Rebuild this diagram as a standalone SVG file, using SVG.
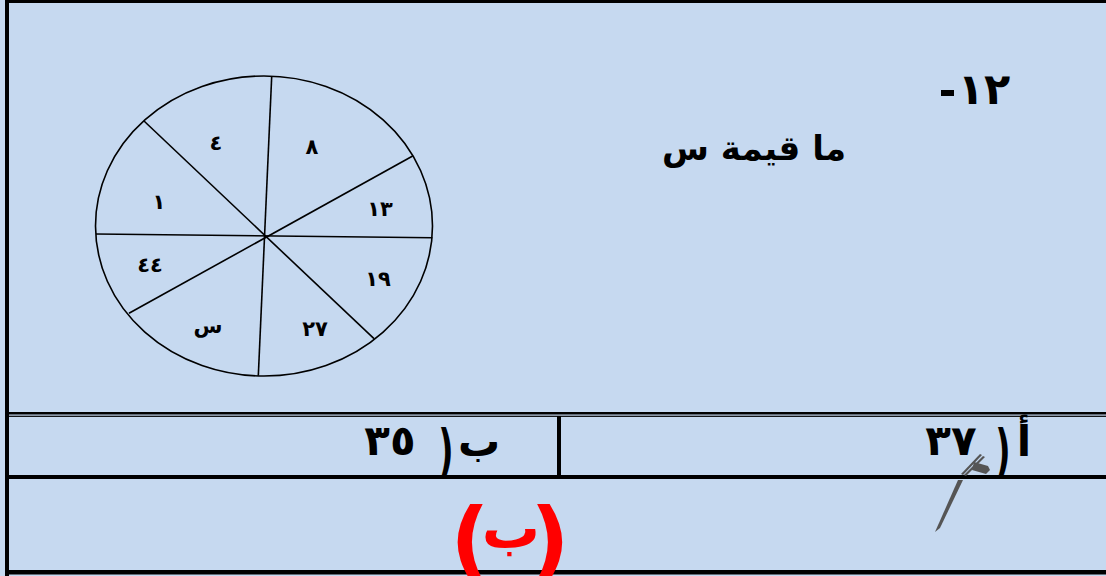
<svg xmlns="http://www.w3.org/2000/svg" width="1106" height="576" viewBox="0 0 1106 576">
<style>
.ln{stroke:#000;fill:none}
.lbl{font-family:"DejaVu Sans",sans-serif;font-weight:bold;font-size:21px;fill:#000;text-anchor:middle}
.big{font-family:"DejaVu Sans",sans-serif;font-weight:bold;fill:#000}
.ans{font-family:"DejaVu Sans",sans-serif;font-weight:bold;font-size:42px;fill:#000;text-anchor:middle}
.par{direction:ltr;unicode-bidi:bidi-override}
.red{font-family:"DejaVu Sans",sans-serif;font-weight:bold;fill:#ff0000;text-anchor:middle}
</style>
<rect x="0" y="0" width="1106" height="576" fill="#C6D9F0"/>
<g id="frame">
<rect x="5" y="0" width="4" height="576" fill="#000"/>
<rect x="5" y="0" width="1101" height="3" fill="#000"/>
<rect x="5" y="412" width="1101" height="2.5" fill="#000"/>
<rect x="5" y="415.7" width="1101" height="1.2" fill="#000"/>
<rect x="557" y="416" width="4" height="61" fill="#000"/>
<rect x="5" y="475" width="1101" height="4" fill="#000"/>
<rect x="5" y="570" width="1101" height="4.5" fill="#000"/>
</g>
<g id="pie">
<ellipse class="ln" cx="264" cy="226" rx="168.5" ry="150" stroke-width="1.6"/>
<g class="ln" stroke-width="1.6">
<line x1="271.7" y1="76.5" x2="258.3" y2="375.8"/>
<line x1="144" y1="121" x2="374" y2="338.7"/>
<line x1="96" y1="234" x2="432.4" y2="237.7"/>
<line x1="412.7" y1="156" x2="129" y2="313.3"/>
</g>
<text class="lbl" x="216" y="150">٤</text>
<text class="lbl" x="312" y="154">٨</text>
<text class="lbl" x="159" y="209">١</text>
<text class="lbl" x="380" y="216" letter-spacing="4">١٣</text>
<text class="lbl" x="150" y="272" letter-spacing="4">٤٤</text>
<text class="lbl" x="378" y="286" letter-spacing="4">١٩</text>
<text class="lbl" x="208" y="333">س</text>
<text class="lbl" x="315" y="336" letter-spacing="4">٢٧</text>
</g>
<g id="question">
<text class="big" x="984" y="104" font-size="43" text-anchor="middle" letter-spacing="3">١٢</text>
<rect x="941" y="90" width="13" height="6" fill="#000"/>
<text class="big" x="754" y="160" font-size="34" text-anchor="middle">ما قيمة س</text>
</g>
<g id="answer-b">
<text class="ans" x="479" y="456">ب</text>
<text class="ans par" transform="translate(446,470) scale(0.8,1.35)" x="0" y="0" font-size="40">)</text>
<text class="ans" x="390" y="455" letter-spacing="3">٣٥</text>
</g>
<g id="answer-a">
<text class="ans" x="1024" y="456">أ</text>
<text class="ans par" transform="translate(1003,470) scale(0.8,1.35)" x="0" y="0" font-size="40">)</text>
<text class="ans" x="951" y="455" letter-spacing="3">٣٧</text>
</g>
<g id="pen" fill="#555">
<polygon points="958,480 963,480 940,528 935,532"/>
<polygon points="961,474 980,454 982,455 963,475"/>
<polygon points="964,475 983,456 985,457 966,476"/>
<polygon points="974,462 988,466 990,470 986,474 972,470"/>
</g>
<g id="answer">
<text class="red par" x="470" y="569" font-size="86">(</text>
<text class="red" x="511" y="548" font-size="58">ب</text>
<text class="red par" x="550" y="569" font-size="86">)</text>
</g>
</svg>
